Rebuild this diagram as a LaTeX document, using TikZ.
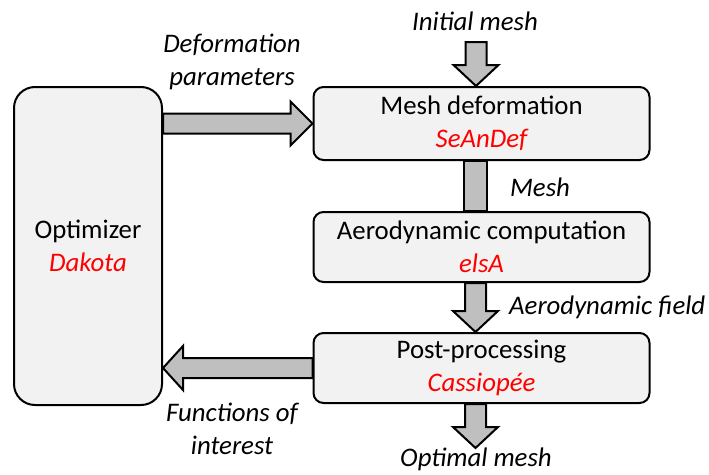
\documentclass[tikz,border=0pt]{standalone}
\usepackage{fontspec}
\setmainfont{Carlito}
\usetikzlibrary{calc}
\definecolor{boxgray}{HTML}{F2F2F2}
\definecolor{arrgray}{HTML}{BFBFBF}
\newcommand{\diagfont}{\fontsize{26.8}{32.5}\selectfont}
\newcommand{\toolname}[1]{{\color{red}\itshape #1}}
\tikzset{
  box/.style={draw, line width=2pt, fill=boxgray, rounded corners=10pt, align=center, inner sep=0pt, font=\diagfont},
  lbl/.style={align=center, inner sep=0pt, font=\diagfont\itshape},
  blockdown/.style={draw, line width=2pt, fill=arrgray, line join=miter,
    to path={let \p1=(\tikztostart), \p2=(\tikztotarget) in
      (\x1-10.5pt,\y1) -- (\x1-10.5pt,\y2+21pt) -- (\x1-22.5pt,\y2+21pt) -- (\x1,\y2)
      -- (\x1+22.5pt,\y2+21pt) -- (\x1+10.5pt,\y2+21pt) -- (\x1+10.5pt,\y1) -- cycle}},
  blockbar/.style={draw, line width=2pt, fill=arrgray,
    to path={let \p1=(\tikztostart), \p2=(\tikztotarget) in
      (\x1-11.5pt,\y1) rectangle (\x1+11.5pt,\y2)}},
  blockright/.style={draw, line width=2pt, fill=arrgray, line join=miter,
    to path={let \p1=(\tikztostart), \p2=(\tikztotarget) in
      (\x1,\y1+10pt) -- (\x2-22pt,\y1+10pt) -- (\x2-22pt,\y1+22pt) -- (\x2,\y1)
      -- (\x2-22pt,\y1-22pt) -- (\x2-22pt,\y1-10pt) -- (\x1,\y1-10pt) -- cycle}},
  blockleft/.style={draw, line width=2pt, fill=arrgray, line join=miter,
    to path={let \p1=(\tikztostart), \p2=(\tikztotarget) in
      (\x1,\y1+10pt) -- (\x2+20pt,\y1+10pt) -- (\x2+20pt,\y1+22pt) -- (\x2,\y1)
      -- (\x2+20pt,\y1-22pt) -- (\x2+20pt,\y1-10pt) -- (\x1,\y1-10pt) -- cycle}},
}
\begin{document}
\begin{tikzpicture}[x=1pt,y=-1pt]
\useasboundingbox (0,0) rectangle (709,474);

\node[box, rounded corners=21pt, minimum width=148pt, minimum height=318pt] (opt) at (88,246) {Optimizer\\\toolname{Dakota}};
\node[box, minimum width=336pt, minimum height=73pt] (mdef) at (481.5,123.5) {Mesh deformation\\\toolname{SeAnDef}};
\node[box, minimum width=336pt, minimum height=70pt] (aero) at (481.5,247) {Aerodynamic computation\\\toolname{elsA}};
\node[box, minimum width=336pt, minimum height=70pt] (post) at (481.5,368) {Post-processing\\\toolname{Cassiopée}};

\coordinate (initin) at (476,42);
\coordinate (optout) at (476,448);
\draw[blockdown] (initin) to (mdef.north);
\draw[blockbar] ($(mdef.south)+(-6,0)$) to (aero.north);
\draw[blockdown] ($(aero.south)+(-6,0)$) to (post.north);
\draw[blockdown] ($(post.south)+(-6,0)$) to (optout);
\draw[blockright] (opt.east |- mdef.west) to (mdef.west);
\draw[blockleft] (post.west) to (opt.east |- post.west);

\node[lbl] (initlbl) at (475,21) {Initial mesh};
\node[lbl] (deflbl) at (232,62) {Deformation\\parameters};
\node[lbl] (meshlbl) at (540,187) {Mesh};
\node[lbl, anchor=west] (aerolbl) at (509,307) {Aerodynamic field};
\node[lbl] (funclbl) at (232,429) {Functions of\\interest};
\node[lbl] (optlbl) at (476,459) {Optimal mesh};
\end{tikzpicture}
\end{document}
